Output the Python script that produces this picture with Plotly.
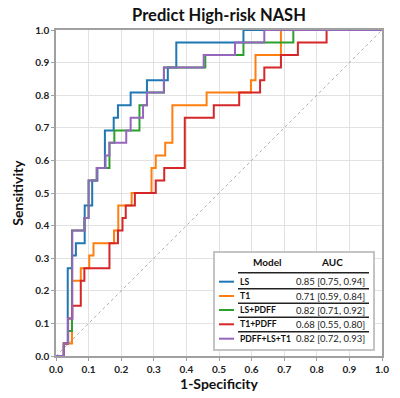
import plotly.graph_objects as go

# ---------------- data ----------------
models = ["LS", "T1", "LS+PDFF", "T1+PDFF", "PDFF+LS+T1"]
auc_text = ["0.85 [0.75, 0.94]", "0.71 [0.59, 0.84]", "0.82 [0.71, 0.92]",
            "0.68 [0.55, 0.80]", "0.82 [0.72, 0.93]"]
colors = ["#1f77b4", "#ff7f0e", "#2ca02c", "#d62728", "#9467bd"]

fpr_ls = [0, 0.024, 0.036, 0.049, 0.061, 0.088, 0.111, 0.127, 0.150, 0.177, 0.190,
          0.229, 0.279, 0.343, 0.369, 0.575, 1.0]
tpr_ls = [0, 0.038, 0.269, 0.308, 0.346, 0.462, 0.538, 0.577, 0.692, 0.731, 0.769,
          0.808, 0.846, 0.885, 0.962, 1.0, 1.0]

fpr_t1 = [0, 0.024, 0.049, 0.049, 0.076, 0.102, 0.115, 0.178, 0.191, 0.232, 0.293,
          0.306, 0.335, 0.357, 0.462, 0.598, 0.612, 0.690, 1.0]
tpr_t1 = [0, 0.038, 0.077, 0.231, 0.269, 0.308, 0.346, 0.385, 0.462, 0.500, 0.577,
          0.615, 0.654, 0.769, 0.808, 0.846, 0.923, 1.0, 1.0]

fpr_lspdff = [0, 0.024, 0.037, 0.049, 0.087, 0.100, 0.125, 0.164, 0.179, 0.256,
              0.279, 0.331, 0.458, 0.575, 0.728, 1.0]
tpr_lspdff = [0, 0.038, 0.077, 0.385, 0.423, 0.538, 0.577, 0.654, 0.692, 0.769,
              0.808, 0.885, 0.923, 0.962, 1.0, 1.0]

fpr_t1pdff = [0, 0.024, 0.037, 0.050, 0.076, 0.087, 0.164, 0.190, 0.204, 0.214,
              0.242, 0.306, 0.332, 0.395, 0.484, 0.562, 0.626, 0.639, 0.690, 0.742,
              0.830, 1.0]
tpr_t1pdff = [0, 0.038, 0.115, 0.154, 0.231, 0.269, 0.346, 0.385, 0.423, 0.462,
              0.500, 0.538, 0.577, 0.731, 0.769, 0.808, 0.846, 0.885, 0.923, 0.962,
              1.0, 1.0]

fpr_all = [0, 0.024, 0.037, 0.050, 0.087, 0.100, 0.125, 0.152, 0.164, 0.2155, 0.229,
           0.267, 0.279, 0.331, 0.453, 0.549, 0.639, 1.0]
tpr_all = [0, 0.038, 0.115, 0.385, 0.423, 0.538, 0.577, 0.615, 0.654, 0.692, 0.731,
           0.769, 0.808, 0.885, 0.923, 0.962, 1.0, 1.0]

curves = [(fpr_ls, tpr_ls), (fpr_t1, tpr_t1), (fpr_lspdff, tpr_lspdff),
          (fpr_t1pdff, tpr_t1pdff), (fpr_all, tpr_all)]

tick_vals = [0.0, 0.1, 0.2, 0.3, 0.4, 0.5, 0.6, 0.7, 0.8, 0.9, 1.0]
tick_text = ["0.0", "0.1", "0.2", "0.3", "0.4", "0.5", "0.6", "0.7", "0.8", "0.9", "1.0"]

# ---------------- figure ----------------
FONT = "Lato"
W, H = 400, 398
PX0, PX1, PY0, PY1 = 56, 382, 30, 356   # plot area in page pixels
L, R, T, B = PX0, W - PX1, PY0, H - PY1


def dx(px):  # page pixel -> data x
    return (px - PX0) / (PX1 - PX0)


def dy(py):  # page pixel -> data y
    return (PY1 - py) / (PY1 - PY0)


fig = go.Figure()
fig.add_trace(go.Scatter(x=[0, 1], y=[0, 1], mode="lines",
                         line=dict(color="#9a9a9a", width=0.8, dash="dot"),
                         showlegend=False, hoverinfo="skip"))
for (fx, ty), c, m in zip(curves, colors, models):
    fig.add_trace(go.Scatter(x=fx, y=ty, mode="lines", name=m,
                             line=dict(color=c, width=2, shape="hv"),
                             showlegend=False))

shapes = []
annotations = []
# legend table box
shapes.append(dict(type="rect", xref="x", yref="y", x0=dx(214), x1=dx(374),
                   y0=dy(350), y1=dy(252), fillcolor="white",
                   line=dict(color="#c4c4c4", width=2), layer="above"))
annotations.append(dict(xref="x", yref="y", x=dx(267), y=dy(262), text="Model",
                        showarrow=False, font=dict(family=FONT, size=10, color="#111", weight="bold")))
annotations.append(dict(xref="x", yref="y", x=dx(332), y=dy(262), text="AUC",
                        showarrow=False, font=dict(family=FONT, size=10, color="#111", weight="bold")))
row_y = [281.7, 296, 310, 324.3, 338.7]
sep_y = [272.7, 288.7, 303.3, 317.3, 331.7]
for yy in sep_y:
    shapes.append(dict(type="line", xref="x", yref="y", x0=dx(238), x1=dx(369),
                       y0=dy(yy), y1=dy(yy), line=dict(color="#222", width=1.5),
                       layer="above"))
for m, a, c, yy in zip(models, auc_text, colors, row_y):
    shapes.append(dict(type="line", xref="x", yref="y", x0=dx(219), x1=dx(234),
                       y0=dy(yy), y1=dy(yy), line=dict(color=c, width=2), layer="above"))
    annotations.append(dict(xref="x", yref="y", x=dx(238), y=dy(yy), text=m,
                            xanchor="left", showarrow=False,
                            font=dict(family=FONT, size=8.6, color="#111", weight="bold")))
    annotations.append(dict(xref="x", yref="y", x=dx(367), y=dy(yy), text=a,
                            xanchor="right", showarrow=False,
                            font=dict(family=FONT, size=9.5, color="#222")))

axis_common = dict(range=[0, 1], tickvals=tick_vals, ticktext=tick_text,
                   showline=True, linecolor="#a0a0a0", linewidth=1.5, mirror=True,
                   showgrid=True, gridcolor="#e2e2e2", gridwidth=1, zeroline=False,
                   ticks="outside", ticklen=3, tickcolor="#a0a0a0", automargin=False,
                   tickfont=dict(family=FONT, size=10, color="#222", weight="bold"))

fig.update_layout(
    width=W, height=H,
    margin=dict(l=L, r=R, t=T, b=B, autoexpand=False),
    paper_bgcolor="white", plot_bgcolor="white",
    title=dict(text="Predict High-risk NASH", x=0.5, xref="paper", xanchor="center",
               y=1 - 15 / H, yref="container", yanchor="middle",
               automargin=False,
               font=dict(family=FONT, size=16.5, color="#111", weight="bold")),
    xaxis=dict(axis_common, title=dict(text="1-Specificity", standoff=4,
                                       font=dict(family=FONT, size=14, color="#111", weight="bold"))),
    yaxis=dict(axis_common, title=dict(text="Sensitivity", standoff=8,
                                       font=dict(family=FONT, size=14, color="#111", weight="bold"))),
    shapes=shapes, annotations=annotations,
)

fig.write_html("out.html", config={"displayModeBar": False},
               post_script="document.body.style.margin='0px';")
